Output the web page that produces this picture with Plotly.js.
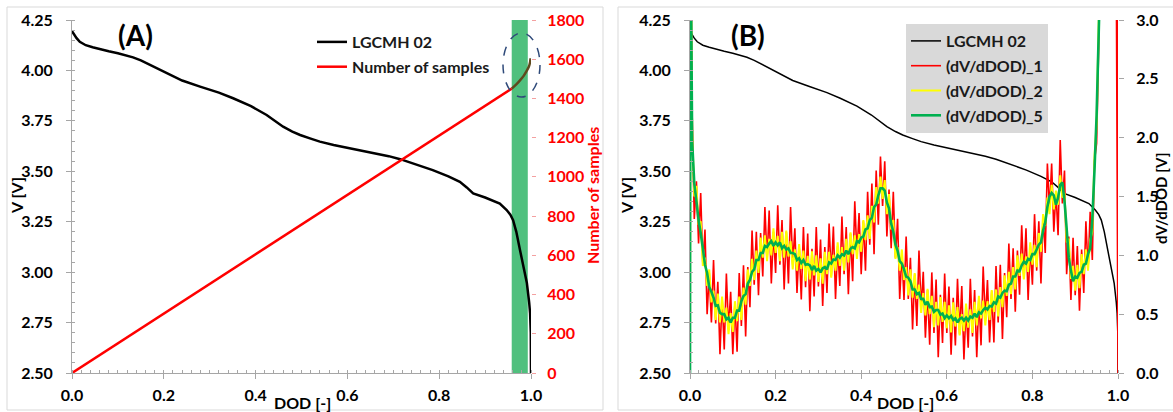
<!DOCTYPE html>
<html>
<head>
<meta charset="utf-8">
<script src="https://cdn.plot.ly/plotly-3.0.1.min.js"></script>
<style>html,body{margin:0;padding:0;background:#fff;}#chart{width:1173px;height:412px;}</style>
</head>
<body>
<div id="chart"></div>
<script>
// ---------- DATA ----------
// Voltage curve of the LGCMH 02 cell (shared by panels A and B)
const dodV = [0,0.005,0.010,0.017,0.030,0.045,0.061,0.080,0.100,0.120,0.133,0.150,0.170,0.190,0.206,0.240,0.279,0.320,0.351,0.390,0.424,0.445,0.460,0.480,0.497,0.520,0.540,0.570,0.606,0.650,0.690,0.715,0.750,0.786,0.820,0.845,0.860,0.874,0.900,0.932,0.947,0.955,0.961,0.968,0.976,0.984,0.991,0.996,0.998,0.9995,1.000];
const voltV = [4.195,4.175,4.160,4.142,4.125,4.115,4.105,4.095,4.085,4.075,4.065,4.050,4.027,4.005,3.986,3.950,3.920,3.890,3.862,3.823,3.779,3.745,3.721,3.697,3.680,3.662,3.647,3.630,3.614,3.595,3.575,3.560,3.535,3.506,3.475,3.448,3.420,3.390,3.370,3.340,3.308,3.285,3.258,3.200,3.110,3.030,2.946,2.850,2.797,2.700,2.500];

// Number of samples vs DOD (panel A)
const nsDod   = [0,0.958,0.968,0.976,0.984,0.990,0.995,0.998,0.999];
const nsCount = [0,1450,1472,1492,1515,1538,1560,1585,1605];

// dV/dDOD series (panel B)
const dodB = [0,0.001,
0.005,0.010,0.015,0.020,0.025,0.030,0.035,0.040,0.045,0.050,
0.055,0.060,0.065,0.070,0.075,0.080,0.085,0.090,0.095,0.100,
0.105,0.110,0.115,0.120,0.125,0.130,0.135,0.140,0.145,0.150,
0.155,0.160,0.165,0.170,0.175,0.180,0.185,0.190,0.195,0.200,
0.205,0.210,0.215,0.220,0.225,0.230,0.235,0.240,0.245,0.250,
0.255,0.260,0.265,0.270,0.275,0.280,0.285,0.290,0.295,0.300,
0.305,0.310,0.315,0.320,0.325,0.330,0.335,0.340,0.345,0.350,
0.355,0.360,0.365,0.370,0.375,0.380,0.385,0.390,0.395,0.400,
0.405,0.410,0.415,0.420,0.425,0.430,0.435,0.440,0.445,0.450,
0.455,0.460,0.465,0.470,0.475,0.480,0.485,0.490,0.495,0.500,
0.505,0.510,0.515,0.520,0.525,0.530,0.535,0.540,0.545,0.550,
0.555,0.560,0.565,0.570,0.575,0.580,0.585,0.590,0.595,0.600,
0.605,0.610,0.615,0.620,0.625,0.630,0.635,0.640,0.645,0.650,
0.655,0.660,0.665,0.670,0.675,0.680,0.685,0.690,0.695,0.700,
0.705,0.710,0.715,0.720,0.725,0.730,0.735,0.740,0.745,0.750,
0.755,0.760,0.765,0.770,0.775,0.780,0.785,0.790,0.795,0.800,
0.805,0.810,0.815,0.820,0.825,0.830,0.835,0.840,0.845,0.850,
0.855,0.860,0.865,0.870,0.875,0.880,0.885,0.890,0.895,0.900,
0.905,0.910,0.915,0.920,0.925,0.930,0.935,0.940,0.945,0.950,
0.955,0.960];

const dvdod1 = [0,4.0,
2.21,1.31,1.63,1.10,1.53,0.92,1.22,0.50,0.85,0.43,
0.96,0.42,0.775,0.16,0.64,0.20,0.845,0.37,0.69,0.16,
0.60,0.18,0.85,0.40,0.915,0.31,0.90,0.56,1.21,0.75,
1.20,0.66,1.19,0.82,1.41,0.96,1.38,0.76,1.20,0.85,
1.425,0.92,1.30,0.71,1.20,0.76,1.41,0.92,1.23,0.68,
1.085,0.625,1.24,0.73,1.185,0.525,1.055,0.65,1.24,0.735,
1.135,0.57,1.07,0.68,1.27,0.82,1.245,0.63,1.08,0.74,
1.33,0.84,1.24,0.67,1.185,0.78,1.46,1.01,1.36,0.84,
1.29,0.87,1.54,1.09,1.61,1.01,1.72,1.26,1.84,1.42,
1.80,1.16,1.56,1.06,1.54,0.98,1.31,0.63,1.02,0.62,
1.16,0.63,0.98,0.37,0.84,0.40,1.04,0.55,0.86,0.30,
0.705,0.24,0.855,0.34,0.795,0.135,0.665,0.255,0.845,0.34,
0.735,0.155,0.64,0.235,0.80,0.33,0.74,0.115,0.56,0.215,
0.80,0.31,0.705,0.135,0.645,0.235,0.905,0.445,0.79,0.26,
0.695,0.26,0.91,0.43,0.92,0.29,0.85,0.475,1.10,0.63,
1.06,0.52,1.04,0.665,1.255,0.805,1.23,0.62,1.08,0.75,
1.35,0.87,1.29,0.76,1.34,1.02,1.78,1.39,1.78,1.20,
1.54,1.17,1.98,1.44,1.72,0.84,1.16,0.62,1.15,0.66,
1.08,0.53,1.05,0.68,1.29,0.88,1.37,0.96,1.80,1.95,
2.80,3.70];
const dodTail1 = [0.965,1.0,1.0];
const dvdodTail1 = [30,0,30];

const dvdod2 = [0,4.0,
2.05,1.50,1.59,1.26,1.29,0.91,0.98,0.74,0.88,0.60,
0.70,0.45,0.675,0.43,0.65,0.43,0.555,0.33,0.51,0.35,
0.61,0.44,0.65,0.45,0.725,0.58,0.88,0.74,0.97,0.79,
1.04,0.85,1.15,0.98,1.17,0.95,1.14,1.00,1.23,1.02,
1.165,0.95,1.20,0.98,1.21,0.99,1.12,0.88,1.05,0.87,
1.095,0.885,1.04,0.78,0.995,0.795,1.035,0.83,1.00,0.775,
0.975,0.76,1.03,0.84,1.03,0.81,1.005,0.87,1.11,0.91,
1.07,0.87,1.14,0.94,1.195,1.01,1.17,0.97,1.18,1.03,
1.30,1.13,1.34,1.14,1.42,1.28,1.58,1.44,1.67,1.48,
1.64,1.35,1.52,1.22,1.30,0.97,1.07,0.87,1.05,0.79,
0.90,0.66,0.88,0.64,0.85,0.63,0.75,0.51,0.68,0.49,
0.715,0.50,0.655,0.39,0.605,0.405,0.645,0.435,0.605,0.38,
0.575,0.345,0.60,0.395,0.56,0.32,0.50,0.355,0.59,0.385,
0.54,0.34,0.605,0.405,0.655,0.465,0.615,0.405,0.61,0.45,
0.705,0.52,0.71,0.48,0.73,0.56,0.83,0.655,0.86,0.67,
0.90,0.71,1.00,0.825,1.015,0.795,0.99,0.86,1.11,0.92,
1.09,0.90,1.19,1.03,1.35,1.25,1.49,1.35,1.60,1.39,
1.55,1.43,1.68,1.49,1.53,1.11,1.14,0.80,0.91,0.70,
0.92,0.72,1.01,0.84,1.05,0.87,1.13,1.20,1.83,2.12,
3.00,3.50];

const dvdod5 = [0,4.0,
1.97,1.61,1.46,1.30,1.19,1.06,0.92,0.85,0.73,0.69,
0.64,0.57,0.575,0.51,0.50,0.50,0.455,0.47,0.43,0.47,
0.47,0.53,0.53,0.61,0.655,0.67,0.76,0.79,0.86,0.88,
0.96,0.96,1.02,1.02,1.08,1.07,1.10,1.12,1.08,1.11,
1.085,1.11,1.06,1.08,1.05,1.06,1.02,1.02,1.01,0.96,
0.975,0.935,0.96,0.92,0.925,0.915,0.875,0.91,0.87,0.885,
0.855,0.89,0.90,0.88,0.94,0.93,0.965,0.96,1.00,0.98,
1.01,1.00,1.04,1.01,1.055,1.07,1.06,1.12,1.11,1.15,
1.16,1.22,1.23,1.30,1.32,1.41,1.43,1.51,1.57,1.57,
1.55,1.45,1.40,1.27,1.20,1.09,1.04,0.95,0.93,0.88,
0.82,0.81,0.78,0.71,0.71,0.67,0.68,0.63,0.63,0.58,
0.605,0.56,0.565,0.52,0.535,0.535,0.495,0.505,0.465,0.49,
0.465,0.485,0.45,0.465,0.43,0.46,0.47,0.445,0.47,0.445,
0.48,0.47,0.505,0.475,0.515,0.505,0.535,0.555,0.54,0.57,
0.565,0.60,0.59,0.65,0.64,0.68,0.70,0.695,0.75,0.76,
0.82,0.82,0.87,0.865,0.915,0.945,0.93,0.97,0.96,1.01,
1.01,1.05,1.09,1.11,1.21,1.28,1.41,1.50,1.53,1.51,
1.43,1.49,1.60,1.62,1.46,1.23,0.98,0.87,0.78,0.82,
0.81,0.85,0.86,0.92,0.93,1.01,1.06,1.31,1.72,2.19,
2.90,3.60];

const xTicks = [0,0.2,0.4,0.6,0.8,1.0];

// ---------- LAYOUT HELPERS ----------
const W = 1173, H = 412;
const FONT = 'Lato, "Open Sans", "Liberation Sans", sans-serif';
const FS = 16;
const px = v => v / W;
const py = v => 1 - v / H;
const AX = '#a6a6a6';
const tickFont = {family: FONT, size: FS, color: '#000', weight: 'bold'};
const boldFont = (size, color) => ({family: FONT, size: size, color: color || '#000', weight: 'bold'});

function xAxis(domain, anchor) {
  return {domain: domain, anchor: anchor, range: [0, 1], tickvals: xTicks, tickformat: '.1f',
    ticks: 'outside', ticklen: 5, tickcolor: AX, showline: true, linecolor: AX, linewidth: 1,
    showgrid: false, zeroline: false, tickfont: tickFont, ticklabelstandoff: 3,
    minor: {dtick: 0.02, ticks: 'inside', ticklen: 3, tickcolor: AX, showgrid: false}};
}
function vAxis(anchor) {
  return {domain: [py(373), py(20)], anchor: anchor, range: [2.5, 4.25], dtick: 0.25, tickformat: '.2f',
    ticks: 'outside', ticklen: 5, tickcolor: AX, showline: true, linecolor: AX, linewidth: 1,
    showgrid: false, zeroline: false, tickfont: tickFont, ticklabelstandoff: 10,
    minor: {dtick: 0.05, ticks: 'inside', ticklen: 3, tickcolor: AX, showgrid: false}};
}

const traces = [
  // Panel A
  {x: dodV, y: voltV, xaxis: 'x', yaxis: 'y', mode: 'lines', name: 'LGCMH 02',
   line: {color: '#000000', width: 2.5}, legend: 'legend', legendgroup: 'a1'},
  {x: nsDod.slice(0, 2), y: nsCount.slice(0, 2), xaxis: 'x', yaxis: 'y2', mode: 'lines', name: 'Number of samples',
   line: {color: '#ff0000', width: 2.5}, legend: 'legend', legendgroup: 'a2'},
  {x: nsDod.slice(1), y: nsCount.slice(1), xaxis: 'x', yaxis: 'y2', mode: 'lines', name: 'Number of samples',
   line: {color: '#5e4a1e', width: 2.5, shape: 'spline'}, showlegend: false, legendgroup: 'a2'},
  // Panel B
  {x: dodV, y: voltV, xaxis: 'x2', yaxis: 'y3', mode: 'lines', name: 'LGCMH 02',
   line: {color: '#000000', width: 1.5}, legend: 'legend2', legendgroup: 'b1'},
  {x: dodB.concat(dodTail1), y: dvdod1.concat(dvdodTail1), xaxis: 'x2', yaxis: 'y4', mode: 'lines', name: '(dV/dDOD)_1',
   line: {color: '#ff0000', width: 1.6, simplify: false}, legend: 'legend2', legendgroup: 'b2'},
  {x: dodB, y: dvdod2, xaxis: 'x2', yaxis: 'y4', mode: 'lines', name: '(dV/dDOD)_2',
   line: {color: '#ffff00', width: 2, simplify: false}, legend: 'legend2', legendgroup: 'b3'},
  {x: dodB, y: dvdod5, xaxis: 'x2', yaxis: 'y4', mode: 'lines', name: '(dV/dDOD)_5',
   line: {color: '#00b050', width: 2.6, simplify: false}, legend: 'legend2', legendgroup: 'b4'}
];

const legendFont = {family: FONT, size: FS, color: '#1a1a1a', weight: 'bold'};
function ann(text, x, y, size, color, angle) {
  return {text: text, x: px(x), y: py(y), xref: 'paper', yref: 'paper', showarrow: false,
    xanchor: 'center', yanchor: 'middle', textangle: angle || 0, font: boldFont(size, color)};
}
const layout = {
  width: W, height: H, margin: {l: 0, r: 0, t: 0, b: 0},
  paper_bgcolor: '#ffffff', plot_bgcolor: 'rgba(0,0,0,0)',
  font: {family: FONT, color: '#000'},
  xaxis: xAxis([px(72), px(531)], 'y'),
  yaxis: vAxis('x'),
  yaxis2: {overlaying: 'y', side: 'right', anchor: 'x', range: [0, 1800], dtick: 200,
    ticks: 'outside', ticklen: 4, tickcolor: '#f4a0a0', showline: false, showgrid: false, zeroline: false,
    tickfont: boldFont(FS, '#ff0000'), ticklabelstandoff: 8},
  xaxis2: xAxis([px(690), px(1118)], 'y3'),
  yaxis3: vAxis('x2'),
  yaxis4: {overlaying: 'y3', side: 'right', anchor: 'x2', range: [0, 3], dtick: 0.5, tickformat: '.1f',
    ticks: 'outside', ticklen: 5, tickcolor: AX, showline: false, showgrid: false, zeroline: false,
    tickfont: tickFont, ticklabelstandoff: 9},
  legend: {x: px(312), y: py(25), xanchor: 'left', yanchor: 'top', bgcolor: 'rgba(0,0,0,0)',
    font: legendFont, tracegroupgap: 1, borderwidth: 0},
  legend2: {x: px(906), y: py(24), xanchor: 'left', yanchor: 'top', bgcolor: '#d9d9d9',
    font: legendFont, tracegroupgap: 1, borderwidth: 0},
  shapes: [
    {type: 'rect', xref: 'paper', yref: 'paper', x0: px(7), x1: px(603), y0: py(410), y1: py(7),
     line: {color: '#d9d9d9', width: 1}, layer: 'below'},
    {type: 'rect', xref: 'paper', yref: 'paper', x0: px(618), x1: 1.02, y0: py(410), y1: py(7),
     line: {color: '#d9d9d9', width: 1}, layer: 'below'},
    {type: 'rect', xref: 'x', yref: 'y', x0: 0.958, x1: 0.993, y0: 2.5, y1: 4.25,
     fillcolor: '#50c07e', line: {width: 0}, layer: 'below'},
    {type: 'circle', xref: 'paper', yref: 'paper', x0: px(503), x1: px(540), y0: py(97), y1: py(33),
     line: {color: '#2f4a7a', width: 1.5, dash: 'dash'}}
  ],
  annotations: [
    ann('<b>(A)</b>', 135, 35, 28),
    ann('<b>(B)</b>', 748, 35, 28),
    ann('<b>V [V]</b>', 16, 196, FS, '#000', -90),
    ann('<b>V [V]</b>', 626, 196, FS, '#000', -90),
    ann('<b>DOD [-]</b>', 302, 402, FS),
    ann('<b>DOD [-]</b>', 905, 402, FS),
    ann('<b>Number of samples</b>', 592, 196, FS, '#ff0000', -90),
    ann('<b>dV/dDOD [V]</b>', 1161, 199, 15, '#000', -90)
  ]
};

Plotly.newPlot('chart', traces, layout, {staticPlot: true, displayModeBar: false});
</script>
</body>
</html>
